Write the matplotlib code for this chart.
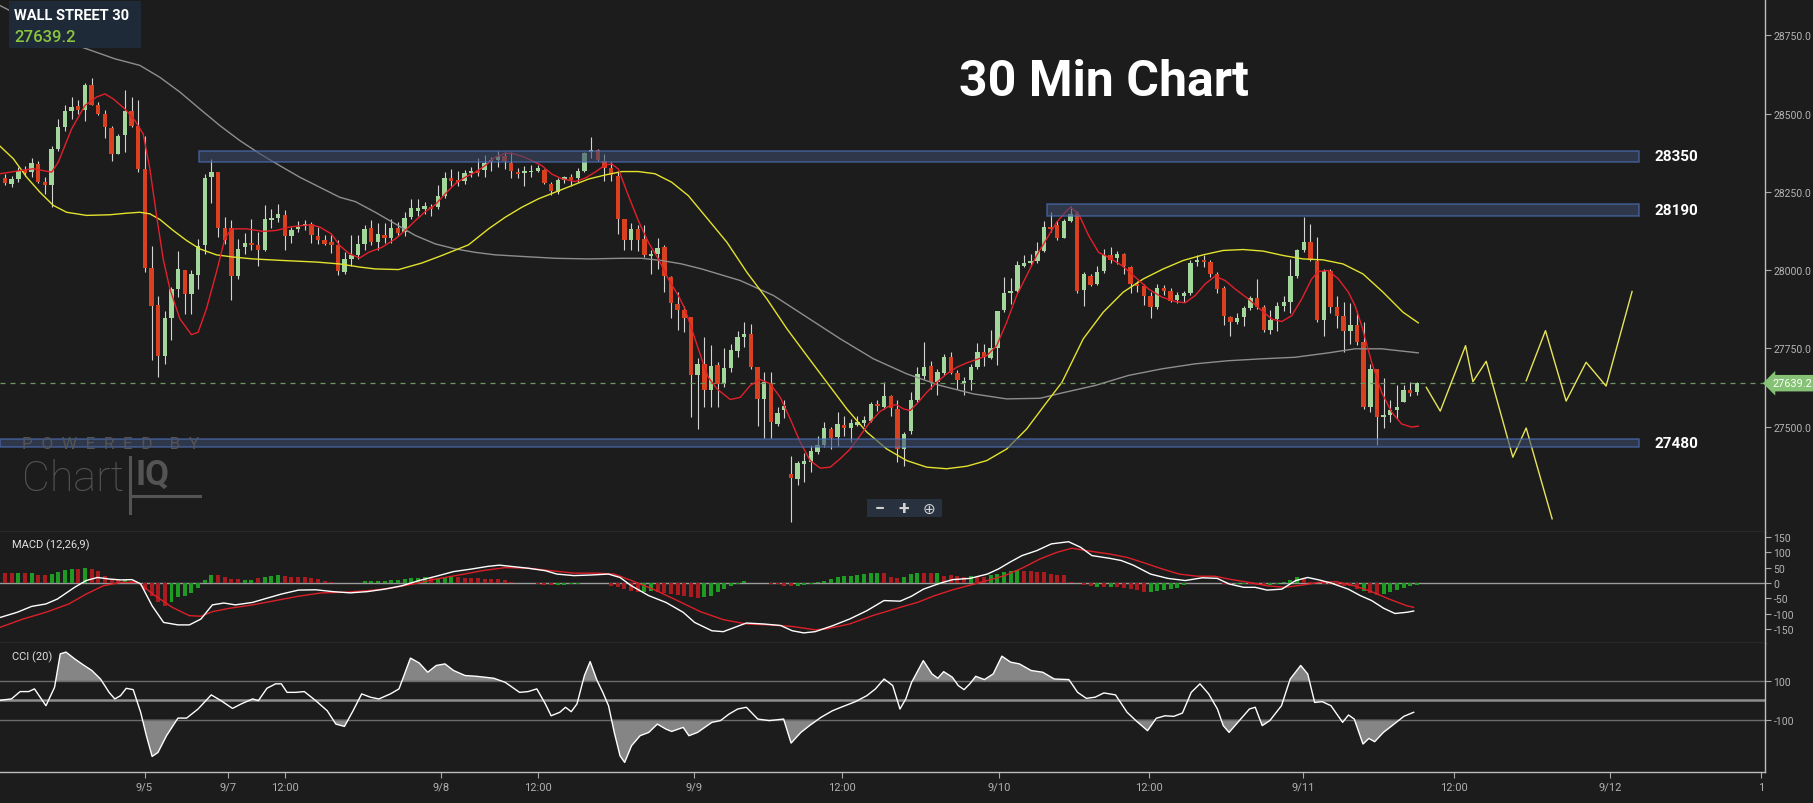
import matplotlib
matplotlib.use('Agg')
import matplotlib.pyplot as plt
import numpy as np
from matplotlib.transforms import blended_transform_factory
from matplotlib.patches import Rectangle
from matplotlib.ticker import FormatStrFormatter

plt.rcParams['font.family'] = ['Roboto', 'DejaVu Sans']
plt.rcParams['axes.unicode_minus'] = False

# ---------------- data ----------------
opens = [28295, 28276, 28290, 28321, 28313, 28339, 28283, 28271, 28388, 28457,
         28507, 28524, 28513, 28590, 28526, 28499, 28455, 28372, 28432, 28508,
         28462, 28324, 28008, 27890, 27725, 27847, 27941, 28001, 27923, 27985,
         28079, 28297, 28315, 28134, 28134, 27980, 28074, 28088, 28081, 28063,
         28160, 28167, 28177, 28108, 28131, 28140, 28147, 28109, 28097, 28091,
         28081, 27994, 28036, 28047, 28084, 28134, 28091, 28113, 28103, 28134,
         28123, 28171, 28190, 28196, 28203, 28201, 28238, 28295, 28288, 28284,
         28310, 28318, 28321, 28347, 28353, 28366, 28343, 28315, 28311, 28313,
         28318, 28321, 28276, 28249, 28288, 28297, 28295, 28318, 28377, 28384,
         28350, 28326, 28302, 28164, 28098, 28132, 28100, 28045, 28052, 28073,
         27978, 27892, 27874, 27850, 27666, 27699, 27619, 27698, 27637, 27688,
         27743, 27786, 27797, 27690, 27589, 27640, 27509, 27552, 27350, 27333,
         27382, 27389, 27419, 27442, 27493, 27467, 27506, 27496, 27507, 27513,
         27520, 27573, 27562, 27598, 27557, 27429, 27485, 27584, 27661, 27693,
         27642, 27671, 27722, 27671, 27639, 27648, 27692, 27740, 27719, 27751,
         27874, 27926, 27933, 28015, 28023, 28029, 28061, 28137, 28143, 28103,
         28156, 28183, 27938, 27981, 27956, 27996, 28049, 28038, 28052, 28009,
         27956, 27949, 27917, 27882, 27942, 27932, 27906, 27919, 27927, 28025,
         28034, 28025, 27988, 27942, 27850, 27836, 27850, 27879, 27911, 27882,
         27810, 27845, 27885, 27900, 27981, 28065, 28089, 28028, 27842, 27999,
         27882, 27855, 27807, 27825, 27770, 27562, 27683, 27531, 27539, 27552,
         27580, 27616, 27612]
highs = [28308, 28302, 28329, 28334, 28358, 28350, 28297, 28398, 28483, 28526,
         28553, 28542, 28597, 28614, 28537, 28513, 28462, 28436, 28574, 28553,
         28542, 28430, 28077, 27917, 27869, 27946, 28061, 28001, 28001, 28100,
         28308, 28356, 28315, 28169, 28159, 28100, 28119, 28162, 28122, 28207,
         28196, 28210, 28191, 28138, 28156, 28159, 28153, 28138, 28111, 28111,
         28095, 28058, 28113, 28111, 28145, 28159, 28151, 28150, 28164, 28153,
         28185, 28228, 28226, 28217, 28212, 28273, 28313, 28323, 28318, 28321,
         28329, 28357, 28368, 28361, 28380, 28377, 28377, 28326, 28334, 28336,
         28336, 28323, 28281, 28294, 28302, 28307, 28326, 28377, 28425, 28387,
         28371, 28345, 28318, 28164, 28151, 28143, 28143, 28065, 28103, 28079,
         27983, 27930, 27887, 27850, 27720, 27788, 27762, 27706, 27751, 27765,
         27807, 27836, 27829, 27690, 27674, 27676, 27562, 27584, 27408, 27392,
         27416, 27442, 27472, 27515, 27499, 27547, 27534, 27525, 27536, 27536,
         27578, 27587, 27644, 27600, 27587, 27483, 27610, 27690, 27772, 27711,
         27685, 27733, 27738, 27680, 27658, 27701, 27768, 27765, 27810, 27871,
         27978, 27974, 28028, 28049, 28052, 28089, 28158, 28185, 28158, 28164,
         28206, 28190, 27993, 27988, 28013, 28068, 28073, 28060, 28054, 28013,
         27964, 27956, 27930, 27956, 27954, 27942, 27930, 27935, 28031, 28047,
         28047, 28034, 27993, 27951, 27855, 27864, 27885, 27917, 27972, 27889,
         27874, 27898, 27917, 28036, 28068, 28169, 28148, 28105, 28004, 28004,
         27917, 27898, 27896, 27871, 27834, 27701, 27685, 27655, 27587, 27632,
         27632, 27642, 27644]
lows = [28271, 28265, 28283, 28302, 28297, 28279, 28244, 28201, 28382, 28446,
        28483, 28499, 28478, 28526, 28496, 28422, 28350, 28372, 28377, 28457,
        28313, 27994, 27712, 27659, 27701, 27776, 27914, 27861, 27861, 27941,
        28052, 28215, 28106, 28084, 27905, 27973, 28052, 28063, 28013, 28060,
        28134, 28153, 28063, 28088, 28122, 28127, 28086, 28084, 28079, 28056,
        27985, 27989, 28015, 28036, 28063, 28079, 28066, 28087, 28087, 28108,
        28108, 28164, 28174, 28180, 28174, 28194, 28230, 28270, 28270, 28276,
        28297, 28300, 28297, 28318, 28329, 28323, 28294, 28294, 28270, 28297,
        28313, 28276, 28240, 28244, 28279, 28270, 28281, 28313, 28357, 28350,
        28286, 28286, 28116, 28066, 28066, 28060, 28042, 27988, 28004, 27930,
        27848, 27810, 27802, 27531, 27493, 27563, 27563, 27562, 27626, 27674,
        27722, 27754, 27685, 27502, 27463, 27463, 27502, 27527, 27197, 27314,
        27325, 27355, 27413, 27435, 27429, 27440, 27472, 27451, 27502, 27502,
        27515, 27549, 27557, 27536, 27387, 27376, 27477, 27578, 27653, 27621,
        27602, 27664, 27667, 27621, 27602, 27616, 27685, 27695, 27715, 27698,
        27866, 27892, 27930, 28009, 28013, 28023, 28057, 28123, 28095, 28102,
        28153, 27928, 27885, 27949, 27953, 27991, 28023, 28020, 27988, 27928,
        27930, 27889, 27847, 27876, 27921, 27900, 27896, 27898, 27921, 28013,
        28009, 27978, 27928, 27825, 27789, 27829, 27823, 27874, 27876, 27804,
        27797, 27807, 27871, 27864, 27974, 28059, 28028, 27834, 27791, 27864,
        27815, 27738, 27765, 27762, 27557, 27546, 27442, 27495, 27515, 27525,
        27578, 27598, 27600]
closes = [28278, 28292, 28316, 28310, 28342, 28283, 28271, 28388, 28457, 28507,
          28521, 28513, 28590, 28526, 28499, 28457, 28372, 28428, 28508, 28460,
          28324, 28008, 27887, 27725, 27848, 27941, 28004, 27923, 27989, 28076,
          28294, 28313, 28134, 28098, 27980, 28068, 28088, 28079, 28063, 28164,
          28168, 28178, 28108, 28129, 28138, 28147, 28113, 28095, 28084, 28081,
          27997, 28036, 28049, 28084, 28132, 28089, 28114, 28103, 28134, 28119,
          28168, 28198, 28200, 28206, 28194, 28238, 28294, 28284, 28281, 28310,
          28318, 28310, 28342, 28352, 28364, 28348, 28316, 28307, 28318, 28318,
          28327, 28278, 28252, 28288, 28297, 28288, 28316, 28373, 28384, 28353,
          28326, 28304, 28164, 28095, 28132, 28098, 28047, 28052, 28071, 27981,
          27895, 27874, 27848, 27666, 27699, 27619, 27695, 27637, 27687, 27744,
          27786, 27797, 27692, 27589, 27644, 27515, 27544, 27566, 27336, 27384,
          27392, 27424, 27442, 27495, 27465, 27509, 27496, 27511, 27515, 27522,
          27573, 27566, 27598, 27559, 27429, 27477, 27584, 27669, 27690, 27644,
          27674, 27722, 27671, 27648, 27645, 27690, 27740, 27722, 27751, 27871,
          27928, 27933, 28018, 28023, 28030, 28061, 28137, 28130, 28102, 28158,
          28180, 27935, 27988, 27953, 27994, 28049, 28034, 28052, 28013, 27956,
          27949, 27917, 27882, 27942, 27932, 27903, 27921, 27927, 28023, 28034,
          28025, 27988, 27940, 27853, 27836, 27847, 27879, 27911, 27882, 27810,
          27842, 27887, 27900, 27981, 28063, 28091, 28031, 27842, 27999, 27882,
          27853, 27807, 27825, 27772, 27562, 27683, 27531, 27538, 27555, 27562,
          27616, 27607, 27639]

last_price = 27639.2

ema_fast = [(-0.75, 28308), (2.25, 28318), (4.25, 28324), (7, 28313), (8, 28345), (10, 28451),
            (12, 28526), (13.75, 28553), (15, 28563), (16.25, 28547), (18, 28515), (19.5, 28478),
            (20.75, 28435), (21.75, 28324), (22.75, 28175), (23.75, 28036), (24.75, 27941),
            (26.25, 27845), (28, 27794), (29, 27802), (30.25, 27877), (31.75, 27994), (33, 28100),
            (34, 28132), (36.25, 28132), (38.75, 28124), (40.75, 28127), (42.75, 28138),
            (44.75, 28143), (46, 28145), (47.25, 28138), (49, 28116), (50.25, 28079),
            (51.75, 28052), (53.25, 28039), (54.6, 28057), (56.6, 28073), (58.6, 28100),
            (60.1, 28127), (61.6, 28158), (63.1, 28187), (64.6, 28209), (66.1, 28244),
            (67.6, 28276), (69.1, 28297), (70.6, 28313), (72.1, 28334), (73.6, 28361),
            (75.1, 28373), (76.1, 28373), (77.6, 28364), (79.1, 28350), (80.6, 28334),
            (82.1, 28307), (83.6, 28292), (85.6, 28283), (87.1, 28294), (88.6, 28313),
            (90.1, 28336), (91.1, 28339), (92.1, 28323), (93.6, 28238), (95.1, 28158),
            (96.6, 28089), (98.1, 28036), (99.6, 27972), (101.1, 27919), (102.1, 27876),
            (103.1, 27813), (104.6, 27717), (105.6, 27658), (106.9, 27621), (108.9, 27587),
            (110.4, 27594), (111.9, 27632), (113.4, 27651), (114.9, 27637), (116.4, 27594),
            (117.9, 27525), (119.4, 27451), (120.9, 27392), (122.4, 27368), (123.9, 27371),
            (125.4, 27398), (126.9, 27429), (128.4, 27472), (129.9, 27515), (131.4, 27549),
            (132.9, 27568), (133.9, 27570), (134.9, 27557), (135.9, 27552), (136.9, 27573),
            (138.4, 27610), (139.9, 27642), (141.4, 27669), (142.9, 27690), (144.4, 27704),
            (145.9, 27715), (147.4, 27727), (148.9, 27759), (150.4, 27834), (151.9, 27919),
            (153.4, 27983), (154.9, 28047), (156.4, 28100), (157.9, 28153), (159.4, 28190),
            (160, 28201), (161.2, 28180), (162.7, 28111), (164.2, 28057), (165.7, 28041),
            (167.7, 28015), (169.7, 27978), (171.7, 27940), (173.7, 27914), (175.7, 27900),
            (177.2, 27896), (178.7, 27919), (180.2, 27956), (181.7, 27981), (183.2, 27967),
            (184.7, 27940), (186.7, 27908), (188.7, 27871), (190.2, 27844), (191.7, 27836),
            (193.2, 27855), (194.7, 27908), (196.2, 27972), (197.2, 27996), (198.7, 27999),
            (200.2, 27972), (201.7, 27930), (202.7, 27887), (203.7, 27823), (205.2, 27706),
            (206.7, 27610), (208.2, 27547), (209.7, 27509), (211.2, 27499), (212.2, 27502)]

sma_mid = [(-0.75, 28396), (1.25, 28356), (3.25, 28297), (5.25, 28249), (7.25, 28207),
           (9.25, 28185), (12.25, 28175), (15.75, 28177), (18.25, 28182), (20.25, 28185),
           (21.75, 28180), (23.25, 28162), (25.25, 28127), (27.25, 28095), (29.25, 28068),
           (31.75, 28049), (34.25, 28042), (37.25, 28036), (41.75, 28031), (46.75, 28026),
           (50.25, 28020), (53.25, 28010), (55.6, 28004), (59.1, 28002), (62.6, 28023),
           (65.6, 28047), (69.6, 28081), (72.6, 28132), (75.1, 28169), (77.6, 28201),
           (80.1, 28228), (82.6, 28249), (85.1, 28270), (87.6, 28291), (90.1, 28304),
           (92.6, 28315), (95.1, 28315), (97.6, 28308), (100.1, 28281), (102.6, 28238),
           (105.1, 28174), (108.4, 28089), (111.4, 27993), (114.4, 27908), (117.4, 27813),
           (120.4, 27727), (123.4, 27642), (126.4, 27557), (129.4, 27483), (132.4, 27429),
           (135.4, 27392), (138.4, 27371), (141.4, 27366), (144.4, 27374), (147.4, 27392),
           (150.4, 27429), (153.4, 27493), (156.4, 27578), (158.7, 27642), (161.9, 27781),
           (164.9, 27866), (167.9, 27930), (170.9, 27972), (173.9, 28004), (176.9, 28031),
           (179.9, 28049), (182.9, 28063), (185.9, 28066), (188.9, 28061), (191.9, 28047),
           (194.9, 28036), (197.9, 28033), (200.9, 28020), (203.9, 27988), (206.9, 27930),
           (209.9, 27866), (212.2, 27832)]

sma_slow = [(-0.75, 28845), (11.3, 28714), (16.5, 28675), (20.25, 28654), (23.25, 28616),
            (26.25, 28569), (29.25, 28515), (32.25, 28462), (35.25, 28414), (38.25, 28372),
            (41.25, 28334), (44.25, 28297), (47.25, 28265), (50.25, 28233), (52.6, 28219),
            (55.6, 28185), (58.6, 28148), (61.6, 28111), (64.6, 28084), (67.6, 28068),
            (70.6, 28057), (73.6, 28049), (77.6, 28044), (82.6, 28038), (87.6, 28036),
            (92.6, 28038), (95.6, 28038), (98.6, 28031), (101.6, 28020), (104.6, 28004),
            (110.4, 27967), (115.4, 27919), (120.4, 27850), (125.4, 27781), (130.4, 27717),
            (135.4, 27669), (140.4, 27632), (145.4, 27605), (150.4, 27589), (155.4, 27591),
            (158.7, 27608), (163.7, 27632), (168.7, 27664), (173.7, 27685), (178.7, 27701),
            (183.7, 27711), (188.7, 27717), (193.7, 27722), (198.7, 27736), (202.7, 27749),
            (206.7, 27749), (212.2, 27736)]

projection_a = [(213.4, 27626), (215.5, 27550), (219.3, 27759), (220.4, 27644), (222.4, 27709),
                (226.4, 27403), (228.4, 27496), (232.3, 27206)]
projection_b = [(228.4, 27647), (231.3, 27807), (234.4, 27582), (237.4, 27706), (240.4, 27630),
                (244.3, 27932)]

band_names = ['28350', '28190', '27480']
band_low = [28345, 28172, 27435]
band_high = [28382, 28211, 27461]
band_start = [29.1, 156.5, -0.75]
band_end = 245.4

macd_line = [(-0.75, -112), (1.84, -95), (3.99, -76), (6.14, -68), (7.87, -52), (10.45, -14),
             (12.18, 8), (13.9, 18), (15.63, 13), (17.35, 10), (19.07, 11), (20.37, -3),
             (22.09, -74), (23.81, -128), (25.97, -136), (27.69, -136), (29.42, -117),
             (31.14, -71), (32.86, -65), (34.59, -71), (37.17, -63), (38.9, -52), (41.48, -36),
             (44.07, -23), (46.66, -22), (49.24, -28), (51.83, -32), (54.41, -28), (57, -20),
             (59.58, -9), (62.17, 8), (64.75, 22), (67.34, 37), (69.93, 45), (72.51, 54),
             (74.24, 58), (75.96, 54), (78.55, 48), (81.13, 40), (82.86, 29), (85.44, 24),
             (88.03, 26), (90.61, 29), (92.34, 18), (94.06, -9), (96.65, -41), (99.23, -63),
             (101.82, -95), (103.54, -128), (106.13, -155), (107.85, -158), (109.57, -144),
             (111.3, -130), (113.88, -133), (116.47, -138), (118.2, -155), (119.92, -162),
             (121.64, -158), (124.23, -139), (126.81, -117), (129.4, -90), (131.98, -57),
             (134.4, -59), (136.1, -43), (137.9, -20), (140.5, 0), (142.3, 11), (144.9, 15),
             (147.5, 29), (149.2, 46), (151, 69), (152.7, 89), (154.9, 105), (157.1, 127),
             (159.7, 134), (161.5, 116), (163.2, 89), (165.9, 80), (167.6, 73), (169.4, 58),
             (172, 29), (174.6, 15), (177.2, 8), (179.8, 17), (182, 15), (183.8, -3),
             (186, -14), (187.7, -14), (189.5, -23), (191.7, -20), (193.8, 8), (195.6, 18),
             (197.3, 10), (199.1, 0), (201.7, -20), (203.5, -41), (205.2, -57), (207, -82),
             (208.7, -99), (210.5, -95), (211.5, -91)]

macd_signal = [(-0.75, -144), (2.7, -117), (6.14, -95), (9.59, -68), (12.18, -36), (14.76, -9),
               (17.35, 2), (19.94, 2), (22.52, -41), (25.11, -79), (27.69, -106), (29.42, -108),
               (31.14, -93), (33.73, -82), (37.17, -71), (40.62, -57), (44.07, -43),
               (47.52, -32), (50.96, -30), (54.41, -25), (57.86, -17), (61.31, -3), (64.75, 13),
               (68.2, 26), (71.65, 40), (75.1, 50), (78.55, 48), (82, 40), (85.44, 32),
               (88.89, 32), (91.47, 29), (94.06, 8), (97.51, -22), (100.96, -57), (104.4, -93),
               (107.85, -119), (111.3, -133), (114.75, -136), (118.2, -141), (121.64, -152),
               (123.37, -149), (126.81, -133), (130.26, -106), (134.4, -79), (137, -63),
               (139.6, -41), (142.3, -22), (144.9, -7), (147.5, 8), (150.1, 24), (152.7, 48),
               (155.4, 78), (158, 100), (160.2, 113), (162.4, 105), (165.9, 94), (168.5, 83),
               (171.1, 65), (173.7, 46), (176.3, 29), (179, 22), (181.6, 22), (184.2, 11),
               (186.8, 2), (189.5, -9), (192.1, -14), (194.7, -7), (197.3, 2), (199.9, 4),
               (202.6, -9), (205.2, -28), (207.8, -52), (210.5, -74), (211.5, -79)]

macd_hist = [32, 32, 32, 32, 32, 27, 26, 29, 35, 42,
             45, 45, 49, 45, 38, 24, 13, 11, 11, 8,
             2, -22, -41, -63, -74, -63, -47, -41, -34, -17,
             10, 26, 26, 21, 13, 13, 11, 11, 15, 18,
             24, 26, 22, 18, 18, 18, 15, 13, 8, 4,
             1, 0, 0, 1, 5, 5, 8, 8, 10, 11,
             13, 16, 16, 18, 15, 16, 18, 21, 18, 16,
             16, 15, 13, 13, 13, 10, 4, 0, 0, 0,
             -4, -6, -6, -6, -6, -4, -4, 0, 0, 0,
             0, -11, -14, -19, -25, -30, -30, -25, -30, -32,
             -36, -39, -43, -47, -50, -47, -41, -30, -19, -9,
             -2, 5, 1, 0, 0, -2, -4, -9, -11, -9,
             -6, -2, 4, 8, 13, 19, 22, 24, 26, 30,
             32, 32, 32, 20, 17, 20, 30, 34, 34, 34,
             34, 24, 26, 22, 18, 22, 20, 18, 26, 30,
             35, 38, 42, 38, 38, 36, 35, 29, 27, 26,
             4, 0, -6, -9, -14, -14, -14, -14, -16, -19,
             -22, -28, -28, -26, -24, -20, -16, -8, 0, 0,
             0, 0, 0, -4, -6, -4, -4, -4, -6, -8,
             -6, -2, 2, 10, 18, 13, 4, 0, -2, -4,
             -6, -9, -11, -19, -26, -32, -38, -36, -30, -24,
             -17, -9, -6]
macd_hist_dir = ("rrgrgrrggg" "grgrrrrrgr" "rrrrrggggg" "ggrrrrggrg" "ggrrrrrrrr"
                 "rggggggggg" "ggggrgggrr" "rrrrrrrrrr" "rrrggggggg" "rrrrrrggrr"
                 "rrrrrggggg" "ggggrrrrrg" "gggggggggg" "ggrrrgggrr" "grrrrgrrgg"
                 "gggrrrrrrr" "rrrrgrgrrr" "rrgggggggg" "grrrrggrrr" "gggggrrrrr"
                 "rrrrgrrggg" "ggg")

cci = [(-0.75, 0), (0.97, 7), (2.27, 45), (3.56, 45), (4.42, 59), (6.15, -28), (7.44, 67),
       (8.3, 240), (9.16, 249), (10.46, 214), (11.75, 183), (13.04, 154), (14.34, 110),
       (15.63, 41), (16.49, 7), (17.35, 24), (18.21, 62), (19.25, 55), (20.37, -62),
       (21.23, -183), (22.09, -290), (22.96, -270), (24.25, -183), (25.97, -92), (27.27, -92),
       (28.99, -45), (30.97, 28), (32.44, -2), (34.16, -42), (35.45, -19), (37.18, 7),
       (38.04, -2), (39.33, 62), (40.63, 85), (41.49, 85), (42.35, 41), (43.64, 41),
       (44.94, 45), (46.66, -2), (48.38, -54), (49.68, -123), (50.97, -135), (52.26, -54),
       (53.56, 33), (54.85, 16), (56.14, 7), (57.87, 33), (59.16, 59), (60.88, 218),
       (62.18, 193), (63.47, 145), (64.76, 180), (66.06, 188), (67.35, 154), (69.07, 128),
       (70.8, 124), (73.38, 114), (75.1, 93), (77.26, 41), (78.55, 45), (79.85, 59),
       (81.14, -19), (82.0, -80), (83.3, -62), (84.16, -36), (85.02, -59), (85.88, -19),
       (87.0, 128), (87.86, 200), (88.9, 102), (89.76, 41), (90.62, -28), (91.48, -166),
       (92.35, -287), (93.04, -321), (94.07, -235), (95.36, -183), (96.66, -166),
       (97.95, -123), (99.24, -149), (100.1, -161), (101.83, -140), (102.69, -183),
       (103.98, -166), (106.14, -114), (107.43, -105), (108.72, -71), (110.02, -45),
       (111.31, -36), (113.03, -97), (114.76, -105), (116.91, -97), (118.03, -221),
       (119.5, -166), (120.79, -131), (122.52, -88), (124.24, -54), (125.53, -36),
       (127.69, -7), (129.41, 24), (130.7, 59), (131.99, 110), (133.29, 76), (134.38, -45),
       (135.25, 7), (136.13, 93), (137.88, 205), (139.19, 136), (140.06, 114), (140.94, 148),
       (142.25, 119), (143.13, 76), (144.0, 55), (144.87, 85), (145.75, 124), (147.06, 107),
       (148.37, 136), (149.68, 228), (150.99, 197), (152.31, 188), (154.06, 154),
       (155.81, 145), (157.55, 110), (159.74, 107), (161.05, 41), (162.36, 10),
       (163.68, 16), (164.99, 38), (166.74, 28), (168.48, -62), (169.8, -105),
       (171.55, -157), (172.86, -93), (174.17, -80), (175.48, -83), (176.79, -66),
       (178.11, 41), (179.42, 85), (180.73, 33), (182.04, -45), (182.92, -131),
       (183.79, -166), (185.1, -114), (186.85, -45), (187.72, -36), (188.77, -131),
       (189.91, -105), (191.66, -28), (192.97, 110), (194.55, 180), (195.6, 136),
       (196.64, -11), (197.78, -7), (199.09, -28), (200.84, -114), (201.72, -76),
       (202.59, -97), (203.9, -226), (204.78, -197), (205.65, -214), (206.96, -166),
       (208.27, -131), (210.03, -83), (211.51, -62)]

time_ticks = [20.95, 33.5, 42, 65.5, 80, 103.4, 125.7, 149.3, 171.8, 194.9, 217.6, 241, 263.7]
time_labels = ['9/5', '9/7', '12:00', '9/8', '12:00', '9/9', '12:00', '9/10', '12:00',
               '9/11', '12:00', '9/12', '1']
price_ticks = [27500, 27750, 28000, 28250, 28500, 28750]
macd_ticks = [150, 100, 50, 0, -50, -100, -150]
cci_ticks = [100, -100]

# ---------------- style ----------------
BG = '#1c1c1c'
GREEN = '#a2d69b'
RED = '#d8401f'
WICK = '#d4d4d4'
W, H = 1813, 804
XMIN, XMAX = -0.75, 264.26

fig = plt.figure(figsize=(W / 100, H / 100), dpi=100, facecolor=BG)
axw = 1765 / W
ax = fig.add_axes([0, 1 - 533 / H, axw, 533 / H])
axm = fig.add_axes([0, 1 - 644 / H, axw, 111 / H])
axc = fig.add_axes([0, 1 - 773 / H, axw, 129 / H])

for a in (ax, axm, axc):
    a.set_facecolor(BG)
    a.set_xlim(XMIN, XMAX)
    for s in ('left', 'top'):
        a.spines[s].set_visible(False)
    a.spines['right'].set_color('#bdbdbd')
    a.spines['right'].set_linewidth(1.0)
    a.spines['bottom'].set_color('#5c5c5c')
    a.spines['bottom'].set_linewidth(1.0)
    a.yaxis.tick_right()
    a.tick_params(axis='y', colors='#a8a8a8', labelcolor='#b4b4b4', labelsize=7.5,
                  length=4, width=0.8, pad=2)
    a.set_xticks([])
axc.spines['bottom'].set_color('#bdbdbd')

# ---- main panel ----
ax.set_ylim(27164, 28866)
x = np.arange(len(closes))
o = np.array(opens, float); c = np.array(closes, float)
hi = np.array(highs, float); lo = np.array(lows, float)
up = c >= o
ax.vlines(x, lo, hi, color=WICK, lw=0.8, zorder=2)
body_h = np.maximum(np.abs(c - o), 3)
ax.bar(x, body_h, bottom=np.minimum(o, c), width=0.66,
       color=np.where(up, GREEN, RED), edgecolor='none', zorder=3)

def xy(pts):
    a = np.array(pts, float)
    return a[:, 0], a[:, 1]

ax.plot(*xy(sma_slow), color='#8e8e8e', lw=1.0, zorder=4)
ax.plot(*xy(sma_mid), color='#e3e22c', lw=1.0, zorder=4)
ax.plot(*xy(ema_fast), color='#e3202b', lw=1.0, zorder=5)
ax.plot(*xy(projection_a), color='#e6e45a', lw=1.0, zorder=5)
ax.plot(*xy(projection_b), color='#e6e45a', lw=1.0, zorder=5)

for name, lo_b, hi_b, xs in zip(band_names, band_low, band_high, band_start):
    ax.add_patch(Rectangle((xs, lo_b), band_end - xs, hi_b - lo_b, facecolor='#3c4a6c',
                           edgecolor='#4f74c2', lw=1.2, alpha=0.6, zorder=6))
    ax.text(band_end + 2.2, (lo_b + hi_b) / 2, name, color='white', fontsize=11,
            fontweight='bold', va='center', ha='left', zorder=7)

ax.axhline(last_price, color='#6f9563', lw=0.9, ls=(0, (4, 4)), zorder=4)
ax.set_yticks(price_ticks)
ax.yaxis.set_major_formatter(FormatStrFormatter('%.1f'))
blend = blended_transform_factory(ax.transAxes, ax.transData)
ax.text(1.004, last_price, f'{last_price:.1f}', transform=blend, ha='left', va='center',
        fontsize=7.8, color='white', clip_on=False, zorder=10,
        bbox=dict(boxstyle='larrow,pad=0.3', fc='#86c275', ec='none'))

# ---- MACD panel ----
axm.set_ylim(-194.8, 165.6)
axm.axhline(0, color='#9a9a9a', lw=1.0, zorder=1)
hist_colors = ['#1f9a22' if d == 'g' else '#a81c1f' for d in macd_hist_dir]
axm.bar(np.arange(len(macd_hist)), macd_hist, width=0.6, color=hist_colors,
        edgecolor='none', zorder=2)
axm.plot(*xy(macd_signal), color='#dc2028', lw=1.0, zorder=3)
axm.plot(*xy(macd_line), color='white', lw=1.0, zorder=4)
axm.set_yticks(macd_ticks)
axm.text(0.007, 0.89, 'MACD (12,26,9)', transform=axm.transAxes, color='#e0e0e0',
         fontsize=8, va='center', ha='left')

# ---- CCI panel ----
axc.set_ylim(-370.5, 296)
cx, cy = xy(cci)
axc.fill_between(cx, cy, 100, where=cy > 100, interpolate=True, color='#858585', lw=0, zorder=1)
axc.fill_between(cx, cy, -100, where=cy < -100, interpolate=True, color='#858585', lw=0, zorder=1)
axc.axhline(100, color='#6c6c6c', lw=1.0, zorder=2)
axc.axhline(-100, color='#6c6c6c', lw=1.0, zorder=2)
axc.axhline(0, color='#8e8e8e', lw=1.8, zorder=2)
axc.plot(cx, cy, color='white', lw=1.0, zorder=3)
axc.set_yticks(cci_ticks)
axc.text(0.007, 0.9, 'CCI (20)', transform=axc.transAxes, color='#e0e0e0',
         fontsize=8, va='center', ha='left')
axc.set_xticks(time_ticks)
axc.set_xticklabels(time_labels)
axc.tick_params(axis='x', colors='#a8a8a8', labelcolor='#b0b0b0', labelsize=8,
                length=4, width=0.8, pad=3)

# ---- overlay (UI chrome) ----
ov = fig.add_axes([0, 0, 1, 1], facecolor='none')
ov.set_zorder(20)
ov.set_xlim(0, W); ov.set_ylim(H, 0); ov.axis('off')
ov.add_patch(Rectangle((9, 2), 132, 47, facecolor='#1f2a38', edgecolor='none'))
ov.text(14, 15.5, 'WALL STREET 30', color='white', fontsize=10.5, fontweight='bold',
        va='center', ha='left')
ov.text(14, 37, f'{last_price:.1f}', color='#8cc63f', fontsize=12, va='center', ha='left',
        fontweight='medium')
ov.text(1104, 82, '30 Min Chart', color='white', fontsize=36, fontweight='bold',
        va='center', ha='center')
ov.text(22, 445, 'P  O  W  E  R  E  D    B  Y', color='#545454', fontsize=12.5,
        va='center', ha='left')
ov.text(22, 480, 'Chart', color='#545454', fontsize=31, va='center', ha='left',
        fontweight='light')
ov.plot([130, 130], [458, 514], color='#545454', lw=2.2)
ov.plot([130, 200], [497, 497], color='#545454', lw=2.2)
ov.text(136, 475, 'IQ', color='#545454', fontsize=25, va='center', ha='left',
        fontweight='bold')
ov.add_patch(Rectangle((867, 500), 75, 18, facecolor='#28313e', edgecolor='none'))
ov.text(880, 509, '\u2212', color='#d0d0d0', fontsize=13, va='center', ha='center',
        fontweight='bold')
ov.text(904, 509, '+', color='#d0d0d0', fontsize=14, va='center', ha='center',
        fontweight='bold')
ov.text(929, 509, '\u2295', color='#d0d0d0', fontsize=11, va='center', ha='center',
        family=['DejaVu Sans'])

fig.savefig('out.png', dpi=100, facecolor=BG)
